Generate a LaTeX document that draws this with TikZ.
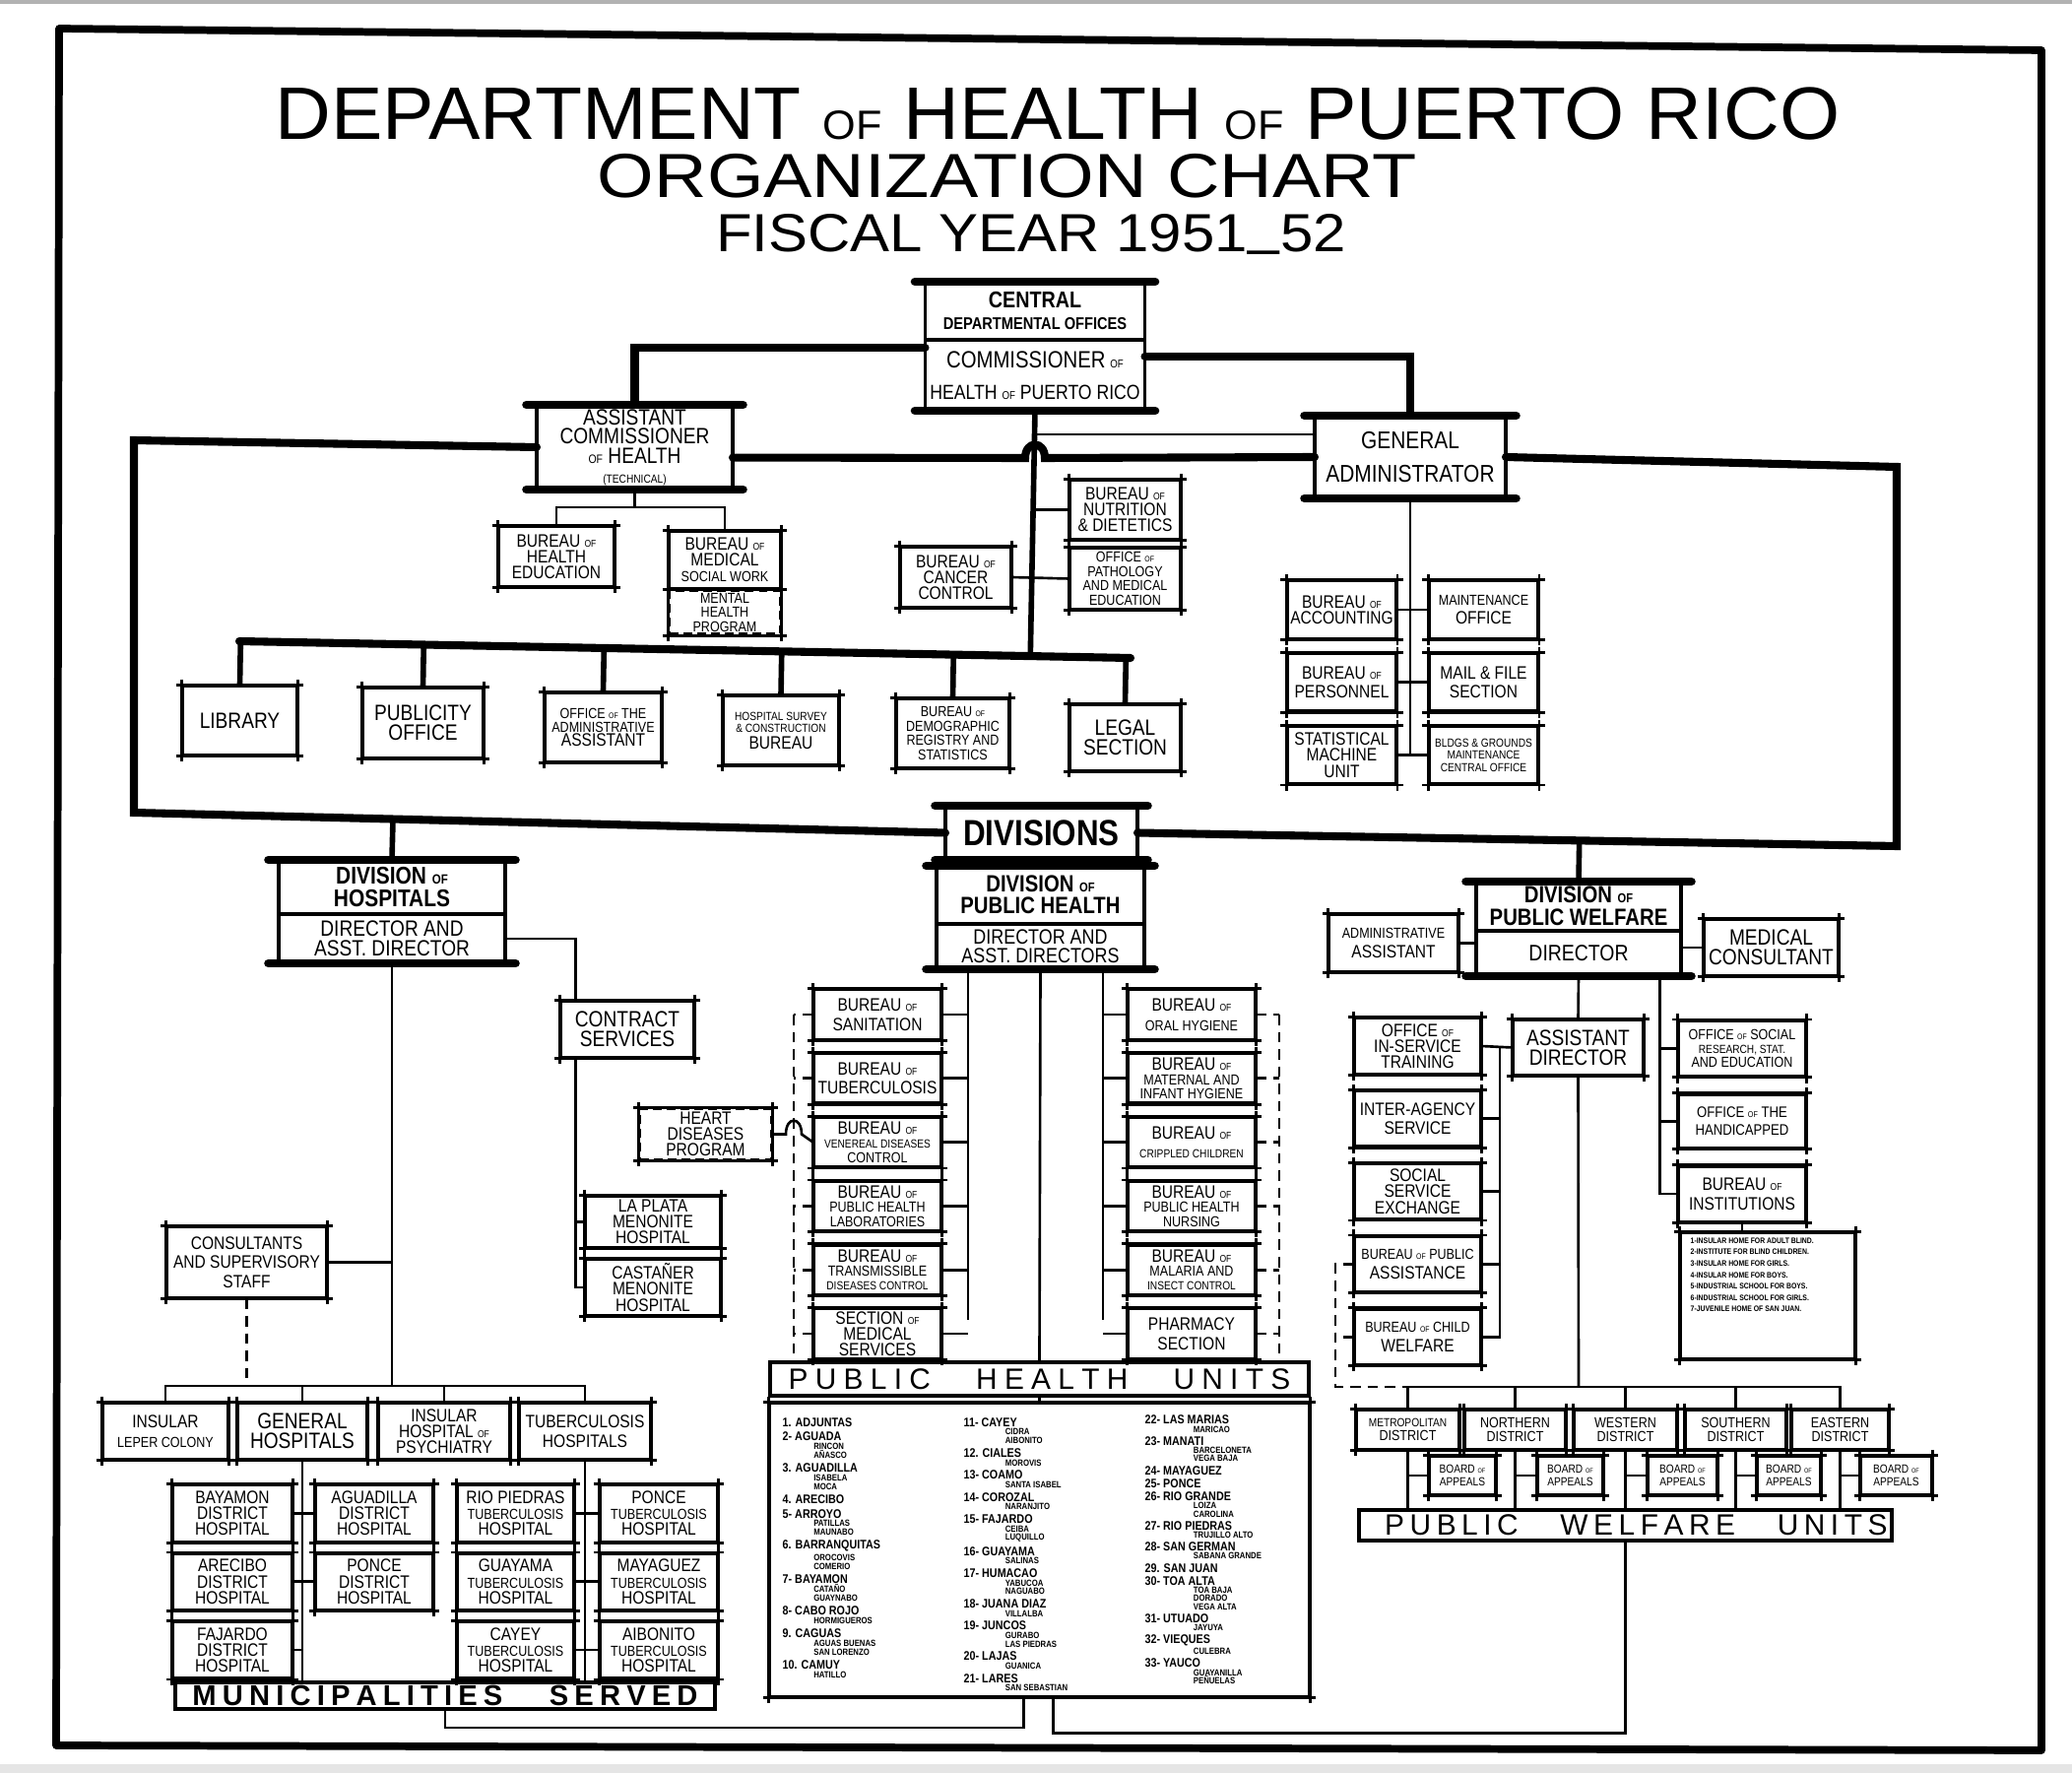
\documentclass[tikz,border=0pt]{standalone}
\usepackage{fontspec}
\setmainfont{Liberation Sans}
\newfontfamily\chart{Liberation Sans}[FakeStretch=0.85]
\usepackage{graphicx}
\usetikzlibrary{calc,positioning}
\newcommand{\fL}{\fontsize{6.4}{5.6}\selectfont}
\newcommand{\fM}{\fontsize{5.2}{4.6}\selectfont}
\newcommand{\fS}{\fontsize{4.2}{4.1}\selectfont}
\newcommand{\fT}{\fontsize{3.4}{3.6}\selectfont}
\newcommand{\ofw}{\scalebox{0.55}{OF}}
\newlength{\munind}\newlength{\munh}\newlength{\subh}
\newcommand{\munA}[1]{\hbox{\rule{0pt}{\munh}\bfseries\fontsize{3.6}{4}\selectfont #1}}
\newcommand{\munB}[1]{\hbox{\hspace{\munind}\rule{0pt}{\subh}\bfseries\fontsize{2.6}{2.5}\selectfont #1}}
\newcommand{\spread}[2]{\makebox[#1][s]{#2}}

\begin{document}
\begin{tikzpicture}[x=0.1mm, y=-0.1mm, font=\chart\fM,
    sz/.style 2 args={minimum width=#1mm, minimum height=#2mm},
    tips/.style={append after command={\pgfextra{\global\let\curbx\tikzlastnode}
        ([xshift=-1.6pt]\curbx.north west) edge[line width=0.8pt] ([xshift=1.6pt]\curbx.north east)
        ([xshift=-1.6pt]\curbx.south west) edge[line width=0.8pt] ([xshift=1.6pt]\curbx.south east)
        ([yshift=1.6pt]\curbx.north west) edge[line width=0.8pt] ([yshift=-1.6pt]\curbx.south west)
        ([yshift=1.6pt]\curbx.north east) edge[line width=0.8pt] ([yshift=-1.6pt]\curbx.south east)}},
    htop/.style={append after command={\pgfextra{\global\let\curbx\tikzlastnode}
        ([xshift=-3pt]\curbx.north west) edge[line width=2.4pt, line cap=round] ([xshift=3pt]\curbx.north east)}},
    hbot/.style={append after command={\pgfextra{\global\let\curbx\tikzlastnode}
        ([xshift=-3pt]\curbx.south west) edge[line width=2.4pt, line cap=round] ([xshift=3pt]\curbx.south east)}},
    box/.style={draw, line width=0.8pt, align=center, inner sep=0.3pt, tips},
    dbox/.style={box, dash pattern=on 2.5pt off 1.5pt},
    heavy/.style={draw, line width=1.1pt, align=center, inner sep=0.3pt, outer sep=0pt},
    band/.style={draw, line width=1.2pt, inner sep=0pt, font=\fontsize{8.5}{8}\selectfont},
    fl/.style={font=\chart\fL},
    fm2/.style={font=\chart\fontsize{5.2}{5.6}\selectfont},
    fs/.style={font=\chart\fS},
    fs2/.style={font=\chart\fontsize{4.4}{5}\selectfont},
    ft/.style={font=\chart\fT},
    trunk/.style={line width=2.3pt, line cap=round},
    stem/.style={line width=1.6pt},
    link/.style={line width=0.75pt},
    dlink/.style={link, dash pattern=on 3pt off 2pt}]

    \path[use as bounding box] (0,0) rectangle (2104,1800);
    \fill[black!30] (0,0) rectangle (2104,4);
    \fill[black!10] (0,1791) rectangle (2104,1800);
    \draw[line width=2.2pt, line join=round] (60,29) -- (2073,51) -- (2073,1777) -- (57,1772) -- cycle;

    % title
    \node[font=\fontsize{21.5}{22}\selectfont, inner sep=0pt] (t1) at (1074,115)
        {\scalebox{1.04}[1]{DEPARTMENT \ofw\ HEALTH \ofw\ PUERTO RICO}};
    \node[font=\fontsize{18}{18}\selectfont, inner sep=0pt] (t2) at (1023,179)
        {\scalebox{1.17}[1]{ORGANIZATION CHART}};
    \node[font=\fontsize{15.5}{16}\selectfont, inner sep=0pt] (t3) at (1047,244)
        {\scalebox{1.1}[1]{FISCAL YEAR 1951\raisebox{-0.5ex}{\textendash}52}};

    % central offices
    \node[heavy, htop, sz={22.3}{5.9}, font=\chart\fontsize{5}{6.2}\selectfont] (ctop) at (1051,315.5)
        {{\bfseries\fontsize{6.6}{6}\selectfont CENTRAL}\\{\bfseries\fontsize{4.9}{5}\selectfont DEPARTMENTAL OFFICES}};
    \node[heavy, hbot, sz={22.3}{7.2}, anchor=north, font=\chart\fontsize{5.9}{9}\selectfont] (cbot) at (ctop.south)
        {{\fontsize{6.8}{9}\selectfont COMMISSIONER} \ofw\\HEALTH \ofw\ PUERTO RICO};
    \node[heavy, htop, hbot, sz={19.9}{8.6}, fl] (ac) at (644.5,454)
        {ASSISTANT\\COMMISSIONER\\\ofw\ HEALTH\\{\fT (TECHNICAL)}};
    \node[heavy, htop, hbot, sz={19.4}{8.4}, font=\chart\fontsize{7}{9.5}\selectfont] (ga) at (1432,464)
        {GENERAL\\ADMINISTRATOR};

    \draw[trunk] ([yshift=8pt]cbot.west) -| (ac.north);
    \draw[trunk] ([yshift=5.5pt]cbot.east) -| (ga.north);

    % staff offices under the commissioner
    \node[box, sz={11.1}{5.9}] (nutr) at (1142.5,517.5) {BUREAU \ofw\\NUTRITION\\\& DIETETICS};
    \node[box, fs, sz={11.1}{6.1}] (path) at (1142.5,587.5) {OFFICE \ofw\\PATHOLOGY\\AND MEDICAL\\EDUCATION};
    \node[box, sz={11.1}{6.0}] (canc) at (970.5,586) {BUREAU \ofw\\CANCER\\CONTROL};
    \node[box, fl, sz={11.5}{6.9}] (lib) at (243.5,731.5) {LIBRARY};
    \node[box, fl, sz={12.1}{7.0}] (pub) at (429.5,734) {PUBLICITY\\OFFICE};
    \node[box, fs, sz={11.7}{6.9}] (oaa) at (612.5,738.5) {OFFICE \ofw\ THE\\ADMINISTRATIVE\\{\fM ASSISTANT}};
    \node[box, ft, sz={11.6}{6.9}] (hsc) at (793,741.5) {HOSPITAL SURVEY\\\& CONSTRUCTION\\{\fM BUREAU}};
    \node[box, fs, sz={11.3}{6.9}] (demo) at (967.5,744.5) {BUREAU \ofw\\DEMOGRAPHIC\\REGISTRY AND\\STATISTICS};
    \node[box, fl, sz={11.1}{6.6}] (legal) at (1142.5,749) {LEGAL\\SECTION};

    \coordinate (libL) at (243,651);
    \coordinate (libR) at (1148,668);
    \draw[stem] (cbot.south) -- ($(libL)!(cbot.south)!(libR)$);
    \draw[trunk] (libL) -- (libR);
    \foreach \b in {lib,pub,oaa,hsc,demo,legal}
        \draw[stem] (\b.north) -- ($(libL)!(\b.north)!(libR)$);
    \draw[link] ([yshift=6.5pt]ga.west) -- ([yshift=6.5pt]ga.west -| cbot.south);
    \draw[link] (nutr.west) -- (nutr.west -| cbot.south);
    \draw[link] (canc.east) -- (path.west);

    % technical assistant commissioner
    \node[box, sz={11.6}{6.0}] (hed) at (565,565) {BUREAU \ofw\\HEALTH\\EDUCATION};
    \node[box, sz={11.2}{5.7}] (msw) at (736,568.5) {BUREAU \ofw\\MEDICAL\\{\fS SOCIAL WORK}};
    \node[dbox, fs, sz={11.2}{4.4}, anchor=north] (mhp) at (msw.south) {MENTAL\\HEALTH\\PROGRAM};
    \coordinate (acj) at (644.5,515);
    \draw[link] (ac.south) -- (acj);
    \draw[link] (hed.north) |- (acj) -| (msw.north);

    % general administrator
    \node[box, sz={11}{5.8}] (acc) at (1362.5,619) {BUREAU \ofw\\ACCOUNTING};
    \node[box, fm2, sz={11}{5.8}] (mnt) at (1506.5,619) {{\fS MAINTENANCE}\\OFFICE};
    \node[box, fm2, sz={11}{5.8}, below=1.3mm of acc] (per) {BUREAU \ofw\\PERSONNEL};
    \node[box, fm2, sz={11}{5.8}, below=1.3mm of mnt] (mail) {MAIL \& FILE\\SECTION};
    \node[box, sz={11}{5.8}, below=1.3mm of per] (stat) {STATISTICAL\\MACHINE\\UNIT};
    \node[box, ft, sz={11}{5.8}, below=1.3mm of mail] (bldg) {BLDGS \& GROUNDS\\MAINTENANCE\\CENTRAL OFFICE};
    \draw[link] (ga.south) -- (ga.south |- stat.east);
    \foreach \a/\b in {acc/mnt, per/mail, stat/bldg}
        \draw[link] (\a.east) -- (\b.west);

    % divisions and the big loop
    \node[heavy, htop, hbot, sz={19.5}{5.5}, font=\chart\bfseries\fontsize{10.5}{10}\selectfont] (div) at (1057.5,845.5) {DIVISIONS};
    \coordinate (lt) at (136,447);
    \coordinate (lb) at (136,825);
    \coordinate (rt) at (1926,474);
    \coordinate (rb) at (1926,859);
    \draw[trunk] ([yshift=-3pt]ac.east) -- (1041,465) .. controls (1041,447) and (1061,447) .. (1061,465) -- (ga.west);
    \draw[trunk] (ac.west) -- (lt) -- (lb) -- (div.west);
    \draw[trunk] (ga.east) -- (rt) -- (rb) -- (div.east);

    % division of public health
    \node[heavy, htop, sz={21.1}{5.9}, font=\chart\bfseries\fontsize{6.8}{6.4}\selectfont] (pht) at (1056.5,908.5) {DIVISION \ofw\\PUBLIC HEALTH};
    \node[heavy, hbot, sz={21.1}{4.6}, anchor=north, font=\chart\fontsize{6}{5.4}\selectfont] (phb) at (pht.south) {DIRECTOR AND\\ASST. DIRECTORS};
    \draw[stem] (div.south) -- (pht.north);

    \node[box, fm2, sz={12.8}{5.0}] (san) at (891,1030) {BUREAU \ofw\\SANITATION};
    \node[box, fm2, sz={12.8}{5.0}, below=1.2mm of san] (tub) {BUREAU \ofw\\TUBERCULOSIS};
    \node[box, fs, sz={12.8}{5.0}, below=1.2mm of tub] (ven) {{\fM BUREAU \ofw}\\{\fT VENEREAL DISEASES}\\CONTROL};
    \node[box, fs, sz={12.8}{5.0}, below=1.2mm of ven] (lab) {{\fM BUREAU \ofw}\\PUBLIC HEALTH\\LABORATORIES};
    \node[box, fs, sz={12.8}{5.0}, below=1.2mm of lab] (trd) {{\fM BUREAU \ofw}\\TRANSMISSIBLE\\{\fT DISEASES CONTROL}};
    \node[box, sz={12.8}{5.0}, below=1.2mm of trd] (med) {SECTION \ofw\\MEDICAL\\SERVICES};
    \node[box, fm2, sz={12.8}{5.0}] (oral) at (1210,1030) {BUREAU \ofw\\{\fS ORAL HYGIENE}};
    \node[box, fs, sz={12.8}{5.0}, below=1.2mm of oral] (mat) {{\fM BUREAU \ofw}\\MATERNAL AND\\INFANT HYGIENE};
    \node[box, fm2, sz={12.8}{5.0}, below=1.2mm of mat] (crip) {BUREAU \ofw\\{\fT CRIPPLED CHILDREN}};
    \node[box, fs, sz={12.8}{5.0}, below=1.2mm of crip] (nurs) {{\fM BUREAU \ofw}\\PUBLIC HEALTH\\NURSING};
    \node[box, fs, sz={12.8}{5.0}, below=1.2mm of nurs] (mal) {{\fM BUREAU \ofw}\\MALARIA AND\\{\fT INSECT CONTROL}};
    \node[box, fm2, sz={12.8}{5.0}, below=1.2mm of mal] (phar) {PHARMACY\\SECTION};
    \node[dbox, sz={13.3}{5.1}] (heart) at (716.5,1151.5) {HEART\\DISEASES\\PROGRAM};

    \node[band, sz={54.7}{3.4}] (phu) at (1055.5,1400)
        {\spread{145pt}{P U B L I C \hspace{9pt} H E A L T H \hspace{9pt} U N I T S}};
    \node[box, sz={54.7}{29.7}] (munlist) at (1055.5,1573.5) {};

    \coordinate (phL) at (983,1340);
    \coordinate (phR) at (1120,1340);
    \coordinate (dLx) at (806,0);
    \coordinate (dRx) at (1299,0);
    \draw[link] (phb.south -| phL) -- (phL);
    \draw[link] (phb.south -| phR) -- (phR);
    \draw[link] (phb.south) -- (phu.north);
    \draw[link] (phu.south) -- (munlist.north);
    \foreach \b in {san,tub,ven,lab,trd,med}
        \draw[link] (\b.east) -- (\b.east -| phL);
    \foreach \b in {oral,mat,crip,nurs,mal,phar}
        \draw[link] (\b.west) -- (\b.west -| phR);
    \draw[dlink] (san.west -| dLx) -- (phu.north -| dLx);
    \foreach \b in {san,tub,lab,trd,med}
        \draw[dlink] (\b.west) -- (\b.west -| dLx);
    \draw[dlink] (oral.east -| dRx) -- (phu.north -| dRx);
    \foreach \b in {oral,mat,crip,nurs,mal,phar}
        \draw[dlink] (\b.east) -- (\b.east -| dRx);
    \draw[link] (heart.east) -- (798,1151.5) .. controls (798,1133) and (814,1133) .. (814,1151.5) -- (ven.west);

    % municipalities served by the units
    \node[anchor=north west, inner sep=0pt] (mcol1) at (794,1434)
        {\setlength{\munind}{9pt}\setlength{\munh}{4pt}\setlength{\subh}{2.5pt}\vbox{\offinterlineskip
        \munA{1. ADJUNTAS}
        \munA{2- AGUADA}\munB{RINCON}\munB{AÑASCO}
        \munA{3. AGUADILLA}\munB{ISABELA}\munB{MOCA}
        \munA{4. ARECIBO}
        \munA{5- ARROYO}\munB{PATILLAS}\munB{MAUNABO}
        \munA{6. BARRANQUITAS}\munB{OROCOVIS}\munB{COMERIO}
        \munA{7- BAYAMON}\munB{CATAÑO}\munB{GUAYNABO}
        \munA{8- CABO ROJO}\munB{HORMIGUEROS}
        \munA{9. CAGUAS}\munB{AGUAS BUENAS}\munB{SAN LORENZO}
        \munA{10. CAMUY}\munB{HATILLO}}};
    \node[anchor=north west, inner sep=0pt] (mcol2) at (978,1434)
        {\setlength{\munind}{12pt}\setlength{\munh}{3.85pt}\setlength{\subh}{2.45pt}\vbox{\offinterlineskip
        \munA{11- CAYEY}\munB{CIDRA}\munB{AIBONITO}
        \munA{12. CIALES}\munB{MOROVIS}
        \munA{13- COAMO}\munB{SANTA ISABEL}
        \munA{14- COROZAL}\munB{NARANJITO}
        \munA{15- FAJARDO}\munB{CEIBA}\munB{LUQUILLO}
        \munA{16- GUAYAMA}\munB{SALINAS}
        \munA{17- HUMACAO}\munB{YABUCOA}\munB{NAGUABO}
        \munA{18- JUANA DIAZ}\munB{VILLALBA}
        \munA{19- JUNCOS}\munB{GURABO}\munB{LAS PIEDRAS}
        \munA{20- LAJAS}\munB{GUANICA}
        \munA{21- LARES}\munB{SAN SEBASTIAN}}};
    \node[anchor=north west, inner sep=0pt] (mcol3) at (1162,1432)
        {\setlength{\munind}{14pt}\setlength{\munh}{3.7pt}\setlength{\subh}{2.35pt}\vbox{\offinterlineskip
        \munA{22- LAS MARIAS}\munB{MARICAO}
        \munA{23- MANATI}\munB{BARCELONETA}\munB{VEGA BAJA}
        \munA{24- MAYAGUEZ}
        \munA{25- PONCE}
        \munA{26- RIO GRANDE}\munB{LOIZA}\munB{CAROLINA}
        \munA{27- RIO PIEDRAS}\munB{TRUJILLO ALTO}
        \munA{28- SAN GERMAN}\munB{SABANA GRANDE}
        \munA{29. SAN JUAN}
        \munA{30- TOA ALTA}\munB{TOA BAJA}\munB{DORADO}\munB{VEGA ALTA}
        \munA{31- UTUADO}\munB{JAYUYA}
        \munA{32- VIEQUES}\munB{CULEBRA}
        \munA{33- YAUCO}\munB{GUAYANILLA}\munB{PEÑUELAS}}};

    % division of hospitals
    \node[heavy, htop, sz={23}{5.5}, font=\chart\bfseries\fontsize{7}{6.4}\selectfont] (dht) at (398,900.5) {DIVISION \ofw\\HOSPITALS};
    \node[heavy, hbot, sz={23}{5.0}, anchor=north, font=\chart\fontsize{6.4}{5.6}\selectfont] (dhb) at (dht.south) {DIRECTOR AND\\ASST. DIRECTOR};
    \draw[stem] (dht.north) -- ($(lb)!(dht.north)!(div.west)$);

    \node[box, fl, sz={13.4}{5.6}] (cs) at (637,1045) {CONTRACT\\SERVICES};
    \node[box, sz={13.6}{5.1}] (lapl) at (663,1240.5) {LA PLATA\\MENONITE\\HOSPITAL};
    \node[box, sz={13.6}{5.6}] (cast) at (663,1307) {CASTAÑER\\MENONITE\\HOSPITAL};
    \draw[link] (dhb.east) -| ([xshift=-15pt]cs.north);
    \draw[link] ([xshift=-15pt]cs.south) coordinate (csv) |- (cast.west);
    \draw[link] (lapl.west) -- (lapl.west -| csv);

    \node[box, fm2, sz={16.1}{7.1}] (cons) at (250.5,1281.5) {CONSULTANTS\\AND SUPERVISORY\\STAFF};
    \coordinate (hl) at (398,1407);
    \draw[link] (dhb.south) -- (hl);
    \draw[link] (cons.east) -- (cons.east -| hl);
    \draw[dlink] (cons.south) -- (cons.south |- hl);

    \node[box, fm2, sz={12.6}{5.6}] (leper) at (168,1453) {INSULAR\\{\fS LEPER COLONY}};
    \node[box, fl, sz={13.0}{5.6}] (genh) at (307,1453) {GENERAL\\HOSPITALS};
    \node[box, sz={13.2}{5.6}] (psych) at (451,1453) {INSULAR\\HOSPITAL \ofw\\PSYCHIATRY};
    \node[box, fm2, sz={13.2}{5.6}] (tbh) at (594,1453) {TUBERCULOSIS\\HOSPITALS};
    \draw[link] (leper.north) |- (hl) -| (tbh.north);
    \draw[link] (genh.north) -- (genh.north |- hl);
    \draw[link] (psych.north) -- (psych.north |- hl);

    \node[box, sz={12.0}{5.7}] (bay) at (236,1536.5) {BAYAMON\\DISTRICT\\HOSPITAL};
    \node[box, sz={12.0}{5.7}, below=0.95mm of bay] (are) {ARECIBO\\DISTRICT\\HOSPITAL};
    \node[box, sz={12.0}{5.7}, below=0.95mm of are] (faj) {FAJARDO\\DISTRICT\\HOSPITAL};
    \node[box, sz={11.8}{5.7}] (agu) at (380,1536.5) {AGUADILLA\\DISTRICT\\HOSPITAL};
    \node[box, sz={11.8}{5.7}, below=0.95mm of agu] (pond) {PONCE\\DISTRICT\\HOSPITAL};
    \node[box, sz={11.7}{5.7}] (rio) at (523.5,1536.5) {RIO PIEDRAS\\{\fS TUBERCULOSIS}\\HOSPITAL};
    \node[box, sz={11.7}{5.7}, below=0.95mm of rio] (guay) {GUAYAMA\\{\fS TUBERCULOSIS}\\HOSPITAL};
    \node[box, sz={11.7}{5.7}, below=0.95mm of guay] (cay) {CAYEY\\{\fS TUBERCULOSIS}\\HOSPITAL};
    \node[box, sz={11.8}{5.7}] (ponce) at (669,1536.5) {PONCE\\{\fS TUBERCULOSIS}\\HOSPITAL};
    \node[box, sz={11.8}{5.7}, below=0.95mm of ponce] (maya) {MAYAGUEZ\\{\fS TUBERCULOSIS}\\HOSPITAL};
    \node[box, sz={11.8}{5.7}, below=0.95mm of maya] (aib) {AIBONITO\\{\fS TUBERCULOSIS}\\HOSPITAL};
    \node[band, sz={54.8}{2.7}, font=\bfseries\fontsize{8.3}{8}\selectfont] (ms) at (452,1721.5)
        {\spread{146pt}{M U N I C I P A L I T I E S \hspace{10pt} S E R V E D}};
    \draw[link] (genh.south) -- (genh.south |- ms.north);
    \draw[link] (tbh.south) -- (tbh.south |- ms.north);
    \foreach \a/\b in {bay/agu, are/pond, rio/ponce, guay/maya, cay/aib}
        \draw[link] (\a.east) -- (\b.west);
    \draw[link] (faj.east) -- (faj.east -| genh.south);

    % division of public welfare
    \node[heavy, htop, sz={20.8}{5.0}, font=\chart\bfseries\fontsize{6.8}{6.4}\selectfont] (dpwt) at (1603,920) {DIVISION \ofw\\PUBLIC WELFARE};
    \node[heavy, hbot, sz={20.8}{4.6}, anchor=north, font=\chart\fontsize{6.5}{6}\selectfont] (dpwb) at (dpwt.south) {DIRECTOR};
    \draw[stem] (dpwt.north) -- ($(rb)!(dpwt.north)!(div.east)$);
    \node[box, fm2, sz={13.0}{5.7}] (aa) at (1415,957.5) {{\fS ADMINISTRATIVE}\\ASSISTANT};
    \node[box, fl, sz={13.5}{5.6}] (mc) at (1798.5,962) {MEDICAL\\CONSULTANT};
    \node[box, fl, sz={13.1}{5.5}] (ad) at (1602.5,1063.5) {ASSISTANT\\DIRECTOR};
    \draw[link] (aa.east) -- (aa.east -| dpwb.west);
    \draw[link] (mc.west) -- (mc.west -| dpwb.east);
    \draw[link] (dpwb.south) -- (ad.north);

    \node[box, sz={12.7}{5.6}] (oist) at (1439.5,1062) {OFFICE \ofw\\IN-SERVICE\\TRAINING};
    \node[box, fm2, sz={12.7}{5.6}, below=1.5mm of oist] (ias) {INTER-AGENCY\\SERVICE};
    \node[box, sz={12.7}{5.6}, below=1.5mm of ias] (sse) {SOCIAL\\SERVICE\\EXCHANGE};
    \node[box, fm2, sz={12.7}{5.6}, below=1.5mm of sse] (pa) {{\fS BUREAU \ofw\ PUBLIC}\\ASSISTANCE};
    \node[box, fm2, sz={12.7}{5.6}, below=1.5mm of pa] (cw) {{\fS BUREAU \ofw\ CHILD}\\WELFARE};
    \node[box, fs, sz={12.8}{5.6}] (osr) at (1769,1064.5) {OFFICE \ofw\ SOCIAL\\{\fT RESEARCH, STAT.}\\AND EDUCATION};
    \node[box, fs2, sz={12.8}{5.4}, below=1.6mm of osr] (hand) {OFFICE \ofw\ THE\\HANDICAPPED};
    \node[box, fm2, sz={12.8}{5.6}, below=1.6mm of hand] (inst) {BUREAU \ofw\\INSTITUTIONS};
    \node[box, sz={17.6}{12.7}] (instl) at (1795,1315.5) {};
    \node[anchor=north west, inner sep=0pt, align=left, font=\chart\bfseries\fontsize{2.3}{3.3}\selectfont] (instt) at (1716,1256)
        {1-INSULAR HOME FOR ADULT BLIND.\\2-INSTITUTE FOR BLIND CHILDREN.\\3-INSULAR HOME FOR GIRLS.\\4-INSULAR HOME FOR BOYS.\\5-INDUSTRIAL SCHOOL FOR BOYS.\\6-INDUSTRIAL SCHOOL FOR GIRLS.\\7-JUVENILE HOME OF SAN JUAN.};

    \coordinate (lvx) at (1523,0);
    \coordinate (dvx) at (1356,0);
    \coordinate (dl) at (1603,1408);
    \draw[link] (oist.east) -- (ad.west);
    \draw[link] (oist.east -| lvx) |- (cw.east);
    \foreach \b in {ias,sse,pa}
        \draw[link] (\b.east) -- (\b.east -| lvx);
    \draw[link] ([xshift=23.5pt]dpwb.south) coordinate (rv) |- (inst.west);
    \draw[link] (osr.west) -- (osr.west -| rv);
    \draw[link] (hand.west) -- (hand.west -| rv);
    \draw[link] (inst.south) -- (inst.south |- instl.north);
    \draw[link] (ad.south) -- (dl);

    \node[box, fs, sz={10.3}{3.9}] (dmet) at (1429.5,1451.5) {{\fT METROPOLITAN}\\DISTRICT};
    \node[box, fs, sz={10.1}{3.9}] (dnor) at (1538.5,1451.5) {NORTHERN\\DISTRICT};
    \node[box, fs, sz={10.3}{3.9}] (dwes) at (1650.5,1451.5) {WESTERN\\DISTRICT};
    \node[box, fs, sz={10.1}{3.9}] (dsou) at (1762.5,1451.5) {SOUTHERN\\DISTRICT};
    \node[box, fs, sz={9.7}{3.9}] (deas) at (1868.5,1451.5) {EASTERN\\DISTRICT};
    \node[box, ft, sz={6.6}{3.8}] (ba1) at (1485,1498) {BOARD \ofw\\APPEALS};
    \node[box, ft, sz={6.5}{3.8}] (ba2) at (1594.5,1498) {BOARD \ofw\\APPEALS};
    \node[box, ft, sz={6.9}{3.8}] (ba3) at (1708.5,1498) {BOARD \ofw\\APPEALS};
    \node[box, ft, sz={6.3}{3.8}] (ba4) at (1816.5,1498) {BOARD \ofw\\APPEALS};
    \node[box, ft, sz={7.1}{3.8}] (ba5) at (1925.5,1498) {BOARD \ofw\\APPEALS};
    \node[band, sz={54.1}{3.1}] (pwu) at (1650.5,1548.5)
        {\spread{139pt}{P U B L I C \hspace{9pt} W E L F A R E \hspace{9pt} U N I T S}};

    \draw[link] (dmet.north) |- (dl) -| (deas.north);
    \foreach \d in {dnor,dwes,dsou}
        \draw[link] (\d.north) -- (\d.north |- dl);
    \foreach \d/\b in {dmet/ba1, dnor/ba2, dwes/ba3, dsou/ba4, deas/ba5} {
        \draw[link] (\d.south) -- (\d.south |- pwu.north);
        \draw[link] (\b.west) -- (\b.west -| \d.south);
    }
    \draw[dlink] (pa.west) -| (dvx |- dl) -- (dl -| dmet.north);
    \draw[dlink] (cw.west) -- (cw.west -| dvx);

    % units tied together at the foot
    \draw[link] (ms.south) -- ++(0,17) -| ([xshift=-4.5pt]munlist.south);
    \draw[link] ([xshift=4pt]munlist.south) -- ++(0,36) -| (pwu.south);
\end{tikzpicture}
\end{document}
